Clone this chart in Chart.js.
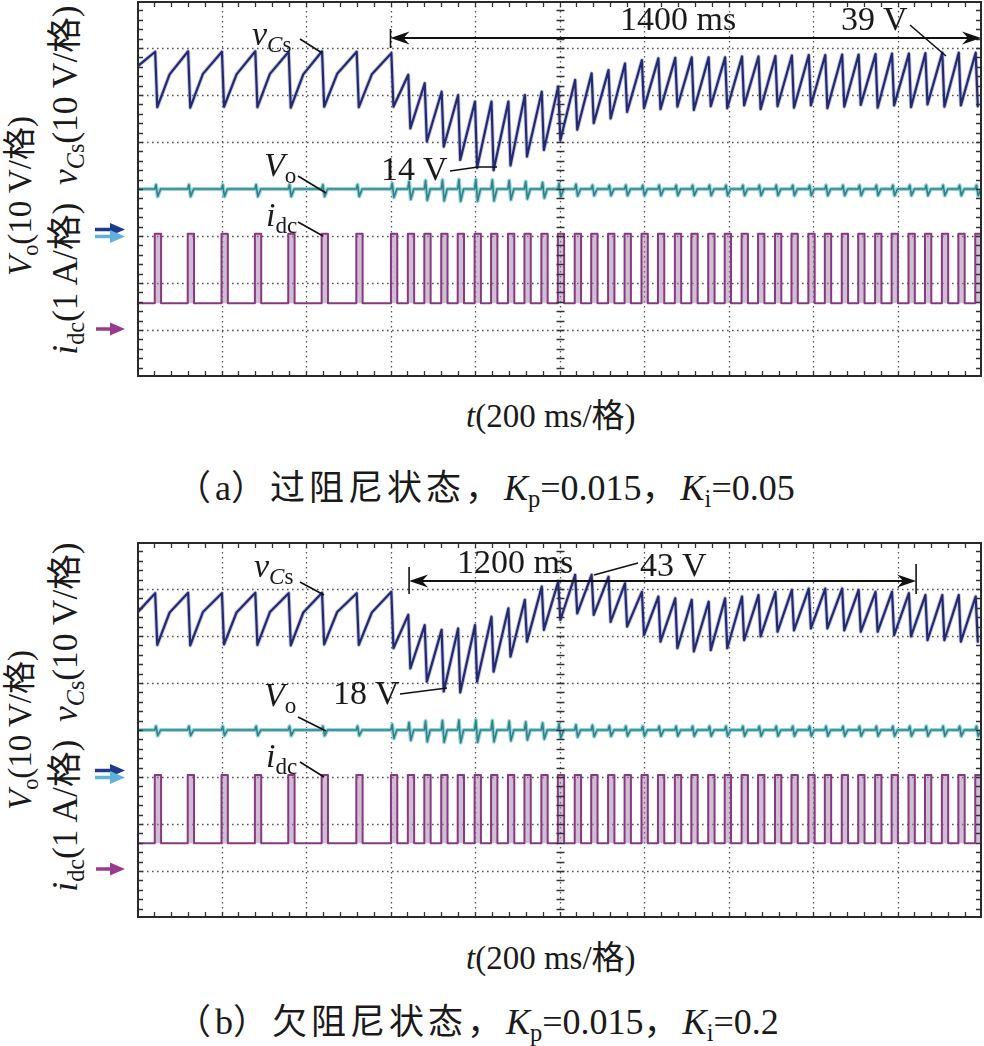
<!DOCTYPE html>
<html><head><meta charset="utf-8">
<script src="https://cdn.jsdelivr.net/npm/chart.js@4.4.1/dist/chart.umd.min.js"></script>
<style>
html,body{margin:0;padding:0;background:#fff;}
#page{position:relative;width:984px;height:1046px;overflow:hidden;font-family:"Liberation Serif","Noto Sans CJK SC",serif;color:#1a1a1a;}
.cv{position:absolute;left:137px;width:845px;height:376px;}
.t{position:absolute;white-space:nowrap;line-height:1;font-size:34px;}
.s{font-size:0.68em;position:relative;top:0.3em;}
.rot{position:absolute;white-space:nowrap;line-height:1;font-size:33px;transform:translate(-50%,-50%) rotate(-90deg);}
.cap{font-size:36px;}
.cj{font-family:"Noto Sans CJK SC",sans-serif;font-size:35px;letter-spacing:4px;}
svg{position:absolute;left:0;top:0;}
</style></head>
<body><div id="page">
<div class="cv" style="top:1px"><canvas id="ca" width="845" height="376"></canvas></div>
<div class="cv" style="top:542px"><canvas id="cb" width="845" height="376"></canvas></div>

<!-- panel a texts -->
<div class="rot" style="left:20px;top:196px"><i>V</i><span class="s">o</span>(10 V/格)</div>
<div class="rot" style="left:66px;top:180px;font-size:35.5px"><i>i</i><span class="s">dc</span>(1 A/格)&nbsp;&nbsp;<i>v</i><span class="s"><i>C</i>s</span>(10 V/格)</div>
<div class="t" style="left:252px;top:17px"><i>v</i><span class="s"><i>C</i>s</span></div>
<div class="t" style="left:264px;top:148px"><i>V</i><span class="s">o</span></div>
<div class="t" style="left:266px;top:198px"><i>i</i><span class="s">dc</span></div>
<div class="t" style="left:381px;top:152px">14 V</div>
<div class="t" style="left:620px;top:2px">1400 ms</div>
<div class="t" style="left:841px;top:2px">39 V</div>
<div class="t" style="left:466px;top:400px;font-size:33px"><i>t</i>(200 ms/格)</div>
<div class="t cap" style="left:176px;top:467px"><span class="cj">（</span>a<span class="cj">）过阻尼状态，</span><i>K</i><span class="s">p</span>=0.015<span class="cj">，</span><i>K</i><span class="s">i</span>=0.05</div>

<!-- panel b texts -->
<div class="rot" style="left:20px;top:730px"><i>V</i><span class="s">o</span>(10 V/格)</div>
<div class="rot" style="left:66px;top:717px;font-size:35.5px"><i>i</i><span class="s">dc</span>(1 A/格)&nbsp;&nbsp;<i>v</i><span class="s"><i>C</i>s</span>(10 V/格)</div>
<div class="t" style="left:254px;top:549px"><i>v</i><span class="s"><i>C</i>s</span></div>
<div class="t" style="left:457px;top:545px">1200 ms</div>
<div class="t" style="left:640px;top:548px">43 V</div>
<div class="t" style="left:333px;top:676px">18 V</div>
<div class="t" style="left:264px;top:678px"><i>V</i><span class="s">o</span></div>
<div class="t" style="left:266px;top:739px"><i>i</i><span class="s">dc</span></div>
<div class="t" style="left:466px;top:942px;font-size:33px"><i>t</i>(200 ms/格)</div>
<div class="t cap" style="left:176px;top:1001px"><span class="cj">（</span>b<span class="cj">）欠阻尼状态，</span><i>K</i><span class="s">p</span>=0.015<span class="cj">，</span><i>K</i><span class="s">i</span>=0.2</div>

<svg width="984" height="1046">
  <g>
    <path d="M95 229.5 H113" stroke="#1f3a8a" stroke-width="3.5"/><path d="M110 223 L125 229.5 L110 236 Z" fill="#1f3a8a"/>
    <path d="M95 236.5 H113" stroke="#5fb2da" stroke-width="3.5"/><path d="M110 230 L125 236.5 L110 243 Z" fill="#5fb2da"/>
    <path d="M96 329 H113" stroke="#9a3a8e" stroke-width="3.5"/><path d="M110 322.5 L125 329 L110 335.5 Z" fill="#9a3a8e"/>
  </g>
  <g>
    <path d="M95 770.5 H113" stroke="#1f3a8a" stroke-width="3.5"/><path d="M110 764 L125 770.5 L110 777 Z" fill="#1f3a8a"/>
    <path d="M95 777.5 H113" stroke="#5fb2da" stroke-width="3.5"/><path d="M110 771 L125 777.5 L110 784 Z" fill="#5fb2da"/>
    <path d="M96 869 H113" stroke="#9a3a8e" stroke-width="3.5"/><path d="M110 862.5 L125 869 L110 875.5 Z" fill="#9a3a8e"/>
  </g>
</svg>
</div>
<script>
// ---- time base (ms) of each capacitor-voltage peak / current pulse (same for both panels)
const tPeak = [43,121,201,280,359,438,520,
  602,642,681,721,760,800,839,879,918,958,997,1037,1076,1116,1155,1195,1234,1274,1313,1353,
  1392,1432,1471,1511,1550,1590,1629,1669,1708,1748,1787,1827,1866,1906,1945,1985];
const dropMs = 5;       // duration of v_Cs discharge
const pulseMs = 14;     // duration of i_dc pulse

// ---- panel (a) over-damped
const vCsStartA = 36.0;
const vCsPeakA = [39.2,39.3,39.2,39.3,39.2,39.3,39.2,
  38.9,34.3,32.5,30.7,30.0,28.6,28.6,28.6,30.0,30.7,31.8,33.2,34.6,35.3,36.7,37.4,37.8,37.9,38.0,38.0,
  38.0,38.2,38.2,38.3,38.4,38.5,38.5,38.6,38.6,38.7,38.8,38.8,38.9,39.0,39.0,39.0];
const vCsTroughA = [27.4,27.3,27.5,27.4,27.3,27.5,27.4,
  27.5,22.9,20.1,19.0,16.2,14.5,14.0,15.0,16.9,18.3,20.4,22.6,24.0,25.0,26.4,27.2,27.0,27.5,26.8,27.6,
  27.2,27.8,27.0,27.6,27.3,27.8,27.2,27.5,27.9,27.3,27.8,27.4,28.0,27.5,27.8,27.6];
const kneeA = [34.4,34.5,34.4,34.5,34.4,34.5,34.4];
const voBaseA = 10.0;
const voHiA = [0.9,0.9,0.9,0.9,0.9,0.9,0.9,
  1.2,1.6,1.8,1.9,2.0,2.0,1.9,1.8,1.6,1.4,1.2,1.0,0.8,0.8,0.8,0.8,0.8,0.8,0.8,0.8,
  0.8,0.8,0.8,0.8,0.8,0.8,0.8,0.8,0.8,0.8,0.8,0.8,0.8,0.8,0.8,0.8];
const voLoA = [-1.6,-1.6,-1.6,-1.6,-1.6,-1.6,-1.6,
  -1.8,-2.2,-2.4,-2.5,-2.6,-2.6,-2.5,-2.3,-2.1,-1.9,-1.7,-1.5,-1.4,-1.4,-1.4,-1.4,-1.4,-1.4,-1.4,-1.4,
  -1.4,-1.4,-1.4,-1.4,-1.4,-1.4,-1.4,-1.4,-1.4,-1.4,-1.4,-1.4,-1.4,-1.4,-1.4,-1.4];
const idcLowA = 0.57, idcHighA = 2.05;

// ---- panel (b) under-damped
const vCsStartB = 34.9;
const vCsPeakB = [39.1,39.2,39.1,39.2,39.1,39.2,39.1,
  39.4,34.5,32.3,31.3,31.6,32.3,34.1,35.9,37.7,40.5,41.6,43.0,43.0,42.6,41.2,39.4,38.4,38.0,37.7,37.3,
  38.0,38.4,38.7,39.4,39.8,40.1,40.1,40.1,39.8,39.4,39.4,39.1,38.7,38.7,38.7,38.4];
const vCsTroughB = [28.1,28.0,28.2,28.1,28.0,28.2,28.1,
  27.4,23.1,20.3,18.2,18.0,20.3,22.4,25.6,28.8,31.3,33.4,34.8,34.5,33.0,32.0,30.2,28.8,27.4,26.7,27.0,
  27.4,29.1,29.9,30.9,31.2,31.6,31.6,31.2,30.9,30.9,30.2,29.9,29.1,29.1,28.8,28.8];
const kneeB = [35.0,35.1,35.0,35.1,35.0,35.1,35.0];
const voBaseB = 10.0;
const voHiB = [0.8,0.8,0.8,0.8,0.8,0.8,0.8,
  1.2,1.6,1.9,2.0,2.1,2.1,2.0,1.9,1.7,1.5,1.3,1.1,1.0,0.9,0.8,0.8,0.8,0.8,0.8,0.8,
  0.8,0.8,0.8,0.8,0.8,0.8,0.8,0.8,0.8,0.8,0.8,0.8,0.8,0.8,0.8,0.8];
const voLoB = [-1.2,-1.2,-1.2,-1.2,-1.2,-1.2,-1.2,
  -1.8,-2.2,-2.5,-2.6,-2.7,-2.6,-2.5,-2.3,-2.1,-1.9,-1.7,-1.5,-1.4,-1.3,-1.3,-1.3,-1.3,-1.3,-1.3,-1.3,
  -1.3,-1.3,-1.3,-1.3,-1.3,-1.3,-1.3,-1.3,-1.3,-1.3,-1.3,-1.3,-1.3,-1.3,-1.3,-1.3];
const idcLowB = 0.59, idcHighB = 2.04;

// ---- build traces from the values above
function vCsTrace(start, peaks, troughs, knees){
  const pts = [{x:0, y:start}];
  for (let i = 0; i < tPeak.length; i++){
    if (i >= 1 && i <= knees.length){
      const tt = tPeak[i-1] + dropMs;
      pts.push({x: tt + 0.4*(tPeak[i]-tt), y: knees[i-1]});
    }
    pts.push({x: tPeak[i], y: peaks[i]});
    pts.push({x: Math.min(tPeak[i] + dropMs, 2000), y: troughs[i]});
  }
  return pts;
}
function voTrace(base, hi, lo){
  const pts = [{x:0, y:base}];
  for (let i = 0; i < tPeak.length; i++){
    const t = tPeak[i];
    pts.push({x:t-1, y:base}, {x:t+2, y:base+hi[i]}, {x:t+6, y:base+lo[i]}, {x:t+13, y:base});
  }
  pts.push({x:2000, y:base});
  return pts;
}
function idcTrace(low, high){
  const pts = [{x:0, y:low}];
  for (const t of tPeak){
    pts.push({x:t-1, y:low}, {x:t-1, y:high}, {x:t+pulseMs, y:high}, {x:t+pulseMs, y:low});
  }
  pts.push({x:2000, y:low});
  return pts;
}

const scopeGrid = {
  id:'scopeGrid',
  beforeDatasetsDraw(chart){
    const {ctx, chartArea:a, scales} = chart; const x = scales.x, y = scales.yV;
    ctx.save();
    ctx.strokeStyle = '#555'; ctx.lineWidth = 1.3; ctx.setLineDash([1.6,3.4]);
    ctx.beginPath();
    for (let v = -20; v < 50; v += 10){ const py = Math.round(y.getPixelForValue(v)) + 0.5; ctx.moveTo(a.left, py); ctx.lineTo(a.right, py); }
    for (let t = 200; t < 2000; t += 200){ const px = Math.round(x.getPixelForValue(t)) + 0.5; ctx.moveTo(px, a.top); ctx.lineTo(px, a.bottom); }
    ctx.stroke();
    ctx.restore();
  },
  afterDatasetsDraw(chart){
    const {ctx, chartArea:a, scales} = chart; const x = scales.x, y = scales.yV;
    ctx.save(); ctx.setLineDash([]); ctx.strokeStyle = '#333'; ctx.lineWidth = 1.3;
    ctx.beginPath();
    for (let t = 0; t <= 2000; t += 40){
      const px = Math.round(x.getPixelForValue(t)) + 0.5;
      ctx.moveTo(px, a.bottom); ctx.lineTo(px, a.bottom - 6);
      ctx.moveTo(px, a.top); ctx.lineTo(px, a.top + 6);
    }
    const cx = Math.round(x.getPixelForValue(1000)) + 0.5;
    for (let v = -30; v <= 50; v += 2){
      const py = Math.round(y.getPixelForValue(v)) + 0.5;
      ctx.moveTo(a.left, py); ctx.lineTo(a.left + 6, py);
      ctx.moveTo(a.right, py); ctx.lineTo(a.right - 6, py);
      ctx.moveTo(cx - 4, py); ctx.lineTo(cx + 4, py);
    }
    ctx.stroke();
    ctx.lineWidth = 2; ctx.strokeStyle = '#2a2a2a';
    ctx.strokeRect(a.left + 1, a.top + 1, a.right - a.left - 2, a.bottom - a.top - 2);
    ctx.restore();
  }
};

function head(ctx, px, py, d){
  ctx.beginPath(); ctx.moveTo(px, py); ctx.lineTo(px - d*19, py - 6.5); ctx.lineTo(px - d*13, py); ctx.lineTo(px - d*19, py + 6.5); ctx.closePath(); ctx.fill();
}
const scopeNotes = {
  id:'scopeNotes',
  afterDraw(chart, args, o){
    const {ctx, scales} = chart; const x = scales.x;
    ctx.save(); ctx.strokeStyle = '#111'; ctx.fillStyle = '#111'; ctx.lineWidth = 1.6; ctx.setLineDash([]);
    for (const ln of o.lines){
      ctx.beginPath();
      ln.forEach((p, k) => { const X = p[0] - o.ox, Y = p[1] - o.oy; k ? ctx.lineTo(X, Y) : ctx.moveTo(X, Y); });
      ctx.stroke();
    }
    const d = o.dim; const x1 = x.getPixelForValue(d.t1), x2 = Math.min(x.getPixelForValue(d.t2), chart.chartArea.right - 1);
    const yy = d.py - o.oy;
    ctx.lineWidth = 2;
    ctx.beginPath(); ctx.moveTo(x1 + 8, yy); ctx.lineTo(x2 - 8, yy); ctx.stroke();
    head(ctx, x1, yy, -1); head(ctx, x2, yy, 1);
    ctx.lineWidth = 1.6;
    for (const tk of d.ticks){ ctx.beginPath(); ctx.moveTo(x.getPixelForValue(tk[0]), tk[1] - o.oy); ctx.lineTo(x.getPixelForValue(tk[0]), tk[2] - o.oy); ctx.stroke(); }
    ctx.restore();
  }
};

function makeChart(id, start, peaks, troughs, knees, voBase, voHi, voLo, iLow, iHigh, notes){
  const J = {borderJoinStyle:'round', borderCapStyle:'round'};
  return new Chart(document.getElementById(id), {
    type:'line',
    data:{datasets:[
      Object.assign({data: vCsTrace(start, peaks, troughs, knees), yAxisID:'yV', borderColor:'#242a6c', borderWidth:2.2, order:0}, J),
      Object.assign({data: vCsTrace(start, peaks, troughs, knees), yAxisID:'yV', borderColor:'rgba(130,138,195,0.5)', borderWidth:4, order:3}, J),
      Object.assign({data: voTrace(voBase, voHi, voLo), yAxisID:'yV', borderColor:'#357f86', borderWidth:1.6, order:1}, J),
      Object.assign({data: voTrace(voBase, voHi, voLo), yAxisID:'yV', borderColor:'#93d5da', borderWidth:4, order:4}, J),
      Object.assign({data: idcTrace(iLow, iHigh), yAxisID:'yI', borderColor:'#873a80', borderWidth:2, order:2,
       fill:{value:iLow}, backgroundColor:'rgba(160,125,170,0.5)'}, J)
    ]},
    options:{
      responsive:false, animation:false, events:[],
      layout:{padding:0},
      plugins:{legend:{display:false}, tooltip:{enabled:false}, scopeNotes:notes},
      scales:{
        x:{type:'linear', min:0, max:2000, display:false},
        yV:{type:'linear', min:-30, max:50, display:false},
        yI:{type:'linear', min:-1, max:7, display:false}
      },
      elements:{point:{radius:0}, line:{tension:0}}
    },
    plugins:[scopeGrid, scopeNotes]
  });
}

makeChart('ca', vCsStartA, vCsPeakA, vCsTroughA, kneeA, voBaseA, voHiA, voLoA, idcLowA, idcHighA, {
  ox:137, oy:1,
  lines:[[[300,39],[322,53]], [[298,176],[326,193]], [[298,222],[323,236]], [[450,171],[478,167],[497,167]], [[910,25],[946,56]]],
  dim:{t1:600, t2:2000, py:38, ticks:[[600,29,48]]}
});
makeChart('cb', vCsStartB, vCsPeakB, vCsTroughB, kneeB, voBaseB, voHiB, voLoB, idcLowB, idcHighB, {
  ox:137, oy:542,
  lines:[[[300,582],[324,595]], [[594,575],[638,563]], [[400,694],[447,688]], [[298,717],[326,731]], [[300,762],[324,777]]],
  dim:{t1:644, t2:1844, py:581, ticks:[[644,567,594],[1844,564,594]]}
});
</script>
</body></html>
